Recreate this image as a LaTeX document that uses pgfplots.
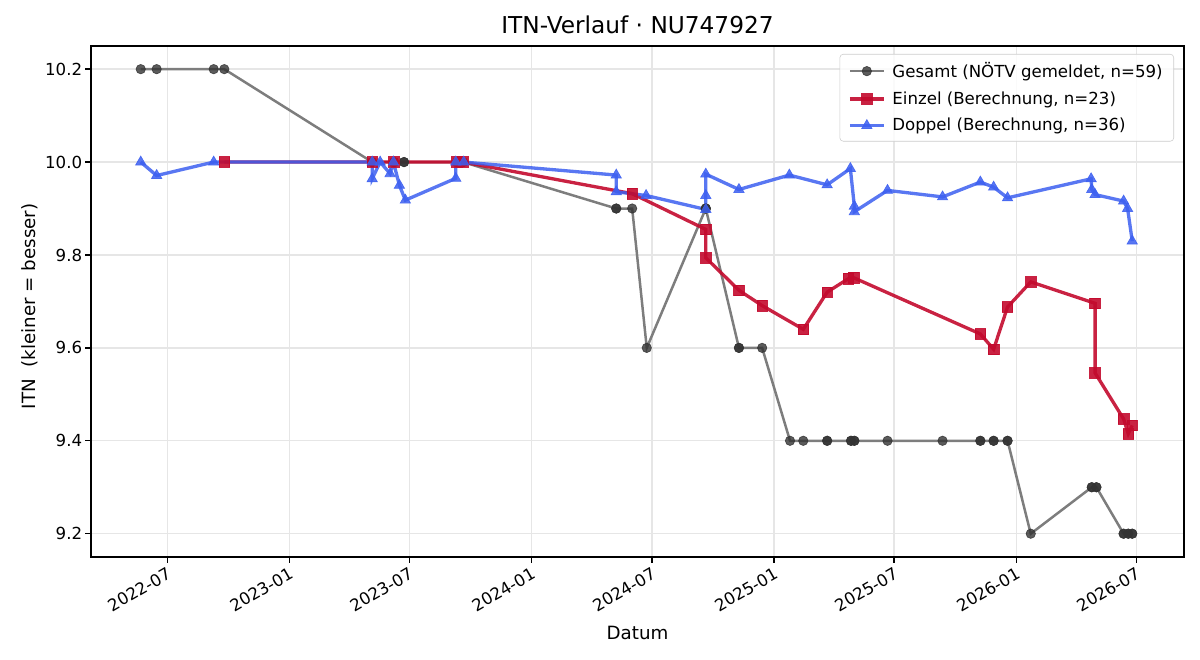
\documentclass[border=0pt]{standalone}
\usepackage{fontspec}
\setmainfont{DejaVu Sans}
\usepackage{pgfplots}
\pgfplotsset{compat=1.18}
\definecolor{gcol}{RGB}{125,125,125}
\definecolor{gmark}{RGB}{51,51,51}
\definecolor{rcol}{RGB}{195,10,45}
\definecolor{bcol}{RGB}{60,95,240}
\definecolor{gridc}{RGB}{230,230,230}
\begin{document}
\begin{tikzpicture}
\path[use as bounding box] (-65.77pt,-74.44pt) rectangle (801.5pt,402.5pt);
\begin{axis}[
  at={(0,0)}, anchor=south west,
  scale only axis, width=789.9pt, height=369.3pt,
  xmin=-115, xmax=1533, ymin=9.15, ymax=10.25,
  xtick={0,184,365,549,731,915,1096,1280,1461},
  xticklabels={2022-07,2023-01,2023-07,2024-01,2024-07,2025-01,2025-07,2026-01,2026-07},
  xticklabel style={rotate=30, anchor=north east, font=\fontsize{12}{14}\selectfont, inner sep=2pt},
  ytick={9.2,9.4,9.6,9.8,10.0,10.2},
  yticklabel style={font=\fontsize{12}{14}\selectfont, inner sep=2pt},
  /pgf/number format/.cd, fixed, fixed zerofill, precision=1, assume math mode=true,
  /pgfplots/.cd,
  tick align=outside, major tick length=4.2pt,
  tick style={black, line width=0.96pt},
  xtick pos=bottom, ytick pos=left,
  axis line style={line width=0.96pt},
  grid=major, grid style={gridc, line width=0.96pt},
  title={ITN-Verlauf · NU747927},
  title style={font=\fontsize{16.8}{19}\selectfont, yshift=-1pt},
  xlabel={Datum}, ylabel={ITN\ \ (kleiner = besser)},
  label style={font=\fontsize{13.2}{15}\selectfont},
  xlabel style={yshift=-3.5pt},
  ylabel style={xshift=-3.6pt},
  legend cell align=left,
  legend style={at={(0.9909,0.9843)}, anchor=north east, draw=gray!40, rounded corners=2.5pt,
    fill=white, fill opacity=0.8, text opacity=1, font=\fontsize{12}{14}\selectfont,
    row sep=4.6pt, inner xsep=6pt, inner ysep=4pt,
    /tikz/every odd column/.append style={column sep=3pt}},
  legend image code/.code={\draw[mark repeat=2, mark phase=2] plot coordinates {(0pt,0pt) (12.3pt,0pt) (24.6pt,0pt)};},
]
\addplot[color=gcol, line width=1.8pt, mark=*, mark size=3.4pt,
  mark options={fill=gmark, draw=gmark, fill opacity=0.8, draw opacity=0.8, line width=0.5pt}]
coordinates {
(-40,10.2) (-16,10.2) (70,10.2) (86,10.2)
(309,10.0) (309,10.0) (342,10.0) (342,10.0) (357,10.0) (357,10.0) (437,10.0) (437,10.0) (446,10.0) (446,10.0)
(677,9.9) (677,9.9) (701,9.9) (723,9.6) (812,9.9) (812,9.9) (812,9.9) (862,9.6) (862,9.6) (897,9.6)
(939,9.4) (959,9.4) (995,9.4) (995,9.4) (1031,9.4) (1031,9.4) (1036,9.4) (1036,9.4)
(1086,9.4) (1169,9.4) (1226,9.4) (1226,9.4) (1246,9.4) (1246,9.4) (1267,9.4) (1267,9.4)
(1302,9.2) (1394,9.3) (1394,9.3) (1401,9.3) (1401,9.3)
(1442,9.2) (1442,9.2) (1449,9.2) (1449,9.2) (1455,9.2) (1455,9.2)
};
\addlegendentry{Gesamt (NÖTV gemeldet, n=59)}
\addplot[color=rcol, opacity=0.9, line width=2.4pt, mark=square*, mark size=3.8pt,
  mark options={line width=0.5pt}]
coordinates {
(86,10.0) (309,10.0) (342,10.0) (437,10.0) (446,10.0)
(701,9.932) (812,9.855) (812,9.794) (862,9.724) (897,9.691) (959,9.640)
(995,9.720) (1027,9.749) (1035,9.751) (1226,9.630) (1246,9.597) (1267,9.688)
(1302,9.742) (1399,9.696) (1399,9.546) (1442,9.447) (1449,9.415) (1455,9.433)
};
\addlegendentry{Einzel (Berechnung, n=23)}
\addplot[color=bcol, opacity=0.85, line width=2.4pt, mark=triangle*, mark size=4.3pt,
  mark options={line width=0.5pt}]
coordinates {
(-40,10.0) (-16,9.971) (70,10.0) (309,10.0) (309,9.964) (321,10.0) (336,9.975) (341,10.0)
(350,9.95) (359,9.918) (435,9.965) (435,10.0) (447,10.0)
(677,9.972) (677,9.936) (722,9.928) (812,9.898) (812,9.928) (812,9.974) (862,9.941)
(938,9.972) (995,9.951) (1030,9.986) (1036,9.905) (1036,9.893) (1086,9.939) (1169,9.925)
(1226,9.957) (1246,9.946) (1267,9.923) (1393,9.964) (1394,9.941) (1399,9.930)
(1442,9.916) (1448,9.900) (1455,9.830)
};
\addlegendentry{Doppel (Berechnung, n=36)}
\end{axis}
\end{tikzpicture}
\end{document}
